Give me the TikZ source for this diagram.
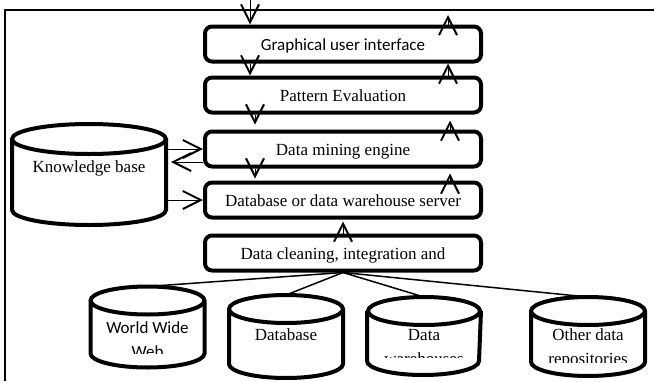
\documentclass[tikz,border=0pt]{standalone}
\usepackage{fontspec}
\setmainfont{Liberation Serif}
\newfontfamily\guifont{Carlito}
\usetikzlibrary{arrows.meta}

%% outline of a drum over a drum node: node, half width, end radius
\newcommand\drawdrum[3]{%
  \draw [line width=4pt] ([yshift=-#3]#1.north) ellipse [x radius=#2, y radius=#3]
    ([yshift=-#3]#1.north west) -- ([yshift=#3]#1.south west)
    arc [start angle=180, end angle=360, x radius=#2, y radius=#3]
    -- ([yshift=-#3]#1.north east);}

\begin{document}
\begin{tikzpicture}[x=1pt, y=-1pt,
    >={Straight Barb[length=18pt, width=18pt, line width=2pt]},
    every node/.style={font=\fontsize{17pt}{24pt}\selectfont},
    sans/.style={font=\guifont\fontsize{17pt}{24pt}\selectfont},
    stage/.style={rectangle, draw, line width=4pt, rounded corners=7pt,
      minimum width=276pt, minimum height=35pt, inner sep=0pt,
      text height=12pt, text depth=0pt},
    drum/.style={rectangle, minimum width=114pt, minimum height=81pt,
      inner sep=0pt, outer sep=0pt},
    drumtext/.style={align=center, inner sep=0pt, anchor=base},
    link/.style={line width=1.5pt}]
%    \draw [help lines, opacity=0.5] (0,0) grid [step=50] (654,381);
    \useasboundingbox (0,0) rectangle (654,381);
    \draw [line width=2pt] (5,381) -- (5,10) -- (654,10);

    %% the five layers, one below the other
    \node (gui) [stage, sans] at (343,44) {Graphical user interface};
    \node (pe) [stage] at (343,95) {Pattern Evaluation};
    \node (dme) [stage] at (343,149) {Data mining engine};
    \node (dbs) [stage] at (343,200) {Database or data warehouse server};
    \node (dc) [stage] at (343,253) {Data cleaning, integration and};

    %% knowledge base on the left
    \node (kb) [drum, minimum width=154pt, minimum height=101pt] at (89,174.5) {};
    \drawdrum{kb}{77pt}{15pt}
    \node (kbtext) at (89,168) {Knowledge base};

    %% the data sources
    \node (www) [drum] at (147.5,327) {};
    \node (db) [drum, minimum height=83pt] at (286,336.5) {};
    \node (dw) [drum, minimum height=78pt] at (424,336) {};
    \node (odr) [drum, minimum height=79pt] at (588,336.5) {};
    \drawdrum{www}{57pt}{14pt}
    \drawdrum{db}{57pt}{14pt}
    \drawdrum{dw}{56pt}{14pt}
    \drawdrum{odr}{57pt}{14pt}

    %% their texts are cut off at the bottom
    \begin{scope}
      \clip (90,310) rectangle (205,353);
      \node (wwwtext) [drumtext, sans] at (147.5,357) {World Wide\\Web};
    \end{scope}
    \node (dbtext) [drumtext] at (286,340) {Database};
    \begin{scope}
      \clip (368,310) rectangle (480,357);
      \node (dwtext) [drumtext] at (424,364) {Data\\warehouses};
    \end{scope}
    \begin{scope}
      \clip (531,310) rectangle (645,362);
      \node (odrtext) [drumtext] at (588,364) {Other data\\repositories};
    \end{scope}

    %% x positions of the arrows
    \coordinate (downa) at (250,0);
    \coordinate (downb) at (255,0);
    \coordinate (upa) at (448,15);
    \coordinate (upb) at (450,0);
    \coordinate (back) at ([yshift=-13pt]dme.west);

    \draw [->] (downa) -- (gui.north -| downa);
    \draw [->] (gui.south -| downa) -- (pe.north -| downa);
    \draw [->, shorten >=5pt] (pe.south -| downb) -- (dme.north -| downb);
    \draw [->, shorten >=2pt] (dme.south -| downb) -- (dbs.north -| downb);

    \draw [->] (gui.north -| upa) -- (upa);
    \draw [->] (pe.north -| upa) -- (gui.south -| upa);
    \draw [->, shorten >=6pt] (dme.north -| upb) -- (pe.south -| upb);
    \draw [->, shorten >=5pt] (dbs.north -| upb) -- (dme.south -| upb);
    \draw [->, shorten >=2pt] (dc.north) -- (dbs.south);

    \draw [->] (kb.east |- dme.west) -- (dme.west);
    \draw [->, shorten >=5pt] (back) -- (kb.east |- back);
    \draw [->] (kb.east |- dbs.west) -- (dbs.west);

    \draw [link] (dc.south) -- (www.north);
    \draw [link] (dc.south) -- (db.north);
    \draw [link] (dc.south) -- (dw.north);
    \draw [link] (dc.south) -- (odr.north);
\end{tikzpicture}
\end{document}
